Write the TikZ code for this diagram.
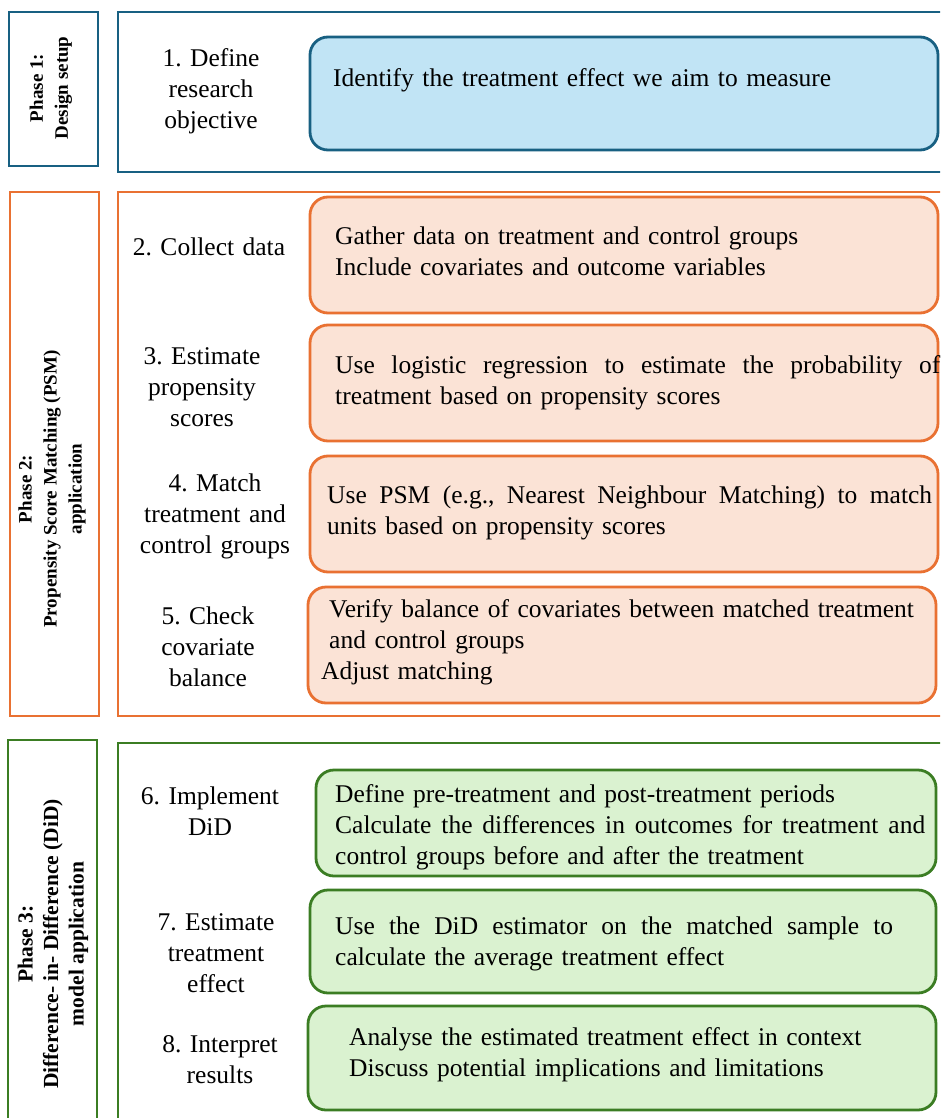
\documentclass[tikz,border=0pt]{standalone}
\usepackage{fontspec}
\setmainfont{Liberation Serif}
\frenchspacing
\definecolor{bdraw}{RGB}{24,96,130}
\definecolor{bfill}{RGB}{193,228,245}
\definecolor{odraw}{RGB}{233,113,50}
\definecolor{ofill}{RGB}{251,227,214}
\definecolor{gdraw}{RGB}{59,125,35}
\definecolor{gfill}{RGB}{218,242,208}
\newcommand{\jline}[2]{\leavevmode\hbox to #1{\spaceskip=0.25em plus 1fil\relax #2}}
\begin{document}
\begin{tikzpicture}[x=1pt,y=-1pt,
  outer/.style={line width=2pt},
  rbox/.style={line width=2.8pt, rounded corners=18pt},
  lbl/.style={anchor=base, align=center, text width=220pt, inner sep=0pt, font=\fontsize{25.5}{31}\selectfont},
  txt/.style={anchor=base west, align=left, text width=640pt, inner sep=0pt, font=\fontsize{25.5}{31}\selectfont},
  phase/.style={rotate=90, align=center, inner sep=0pt, font=\bfseries\fontsize{19}{25}\selectfont}]
\useasboundingbox (0,0) rectangle (940,1118);
\clip (0,0) rectangle (940,1118);
\fill[white] (0,0) rectangle (940,1118);

% Phase 1
\draw[outer, draw=bdraw] (9,12) rectangle (98,166);
\draw[outer, draw=bdraw] (118,12) rectangle (960,172);
\draw[rbox, draw=bdraw, fill=bfill] (310,37) rectangle (938,150);

% Phase 2
\draw[outer, draw=odraw] (10,192) rectangle (99,716);
\draw[outer, draw=odraw] (118,192) rectangle (960,716);
\draw[rbox, draw=odraw, fill=ofill] (310,197) rectangle (938,313);
\draw[rbox, draw=odraw, fill=ofill] (310,325) rectangle (938,441);
\draw[rbox, draw=odraw, fill=ofill] (310,456) rectangle (938,572);
\draw[rbox, draw=odraw, fill=ofill] (308,587) rectangle (936,703);

% Phase 3
\draw[outer, draw=gdraw] (8,740) rectangle (97,1130);
\draw[outer, draw=gdraw] (118,743) rectangle (960,1130);
\draw[rbox, draw=gdraw, fill=gfill] (316,770) rectangle (936,876);
\draw[rbox, draw=gdraw, fill=gfill] (310,890) rectangle (936,993);
\draw[rbox, draw=gdraw, fill=gfill] (308,1006) rectangle (936,1110);

% Phase labels
\node[phase] (p1) at (51,88) {Phase 1:\\Design setup};
\node[phase] (p2) at (52,489) {Phase 2:\\Propensity Score Matching (PSM)\\application};
\node[phase, font=\bfseries\fontsize{21.5}{25.5}\selectfont] (p3) at (53,944) {Phase 3:\\Difference- in- Difference (DiD)\\model application};

% Step labels
\node[lbl] (l1) at (211,67) {1. Define\\research\\objective};
\node[lbl] (l2) at (209,255) {2. Collect data};
\node[lbl] (l3) at (202,364) {3. Estimate\\propensity\\scores};
\node[lbl] (l4) at (215,491) {4. Match\\treatment and\\control groups};
\node[lbl] (l5) at (208,624) {5. Check\\covariate\\balance};
\node[lbl] (l6) at (210,804) {6. Implement\\DiD};
\node[lbl] (l7) at (216,930) {7. Estimate\\treatment\\effect};
\node[lbl] (l8) at (220,1052) {8. Interpret\\results};

% Descriptions
\node[txt] (t1) at (333,87) {Identify the treatment effect we aim to measure};
\node[txt] (t2) at (335,244) {Gather data on treatment and control groups\\Include covariates and outcome variables};
\node[txt] (t3) at (335,373) {\jline{605pt}{Use logistic regression to estimate the probability of}\\treatment based on propensity scores};
\node[txt] (t4) at (327,503) {\jline{605pt}{Use PSM (e.g., Nearest Neighbour Matching) to match}\\units based on propensity scores};
\node[txt] (t5) at (329,617) {Verify balance of covariates between matched treatment\\and control groups\\\hspace*{-8pt}Adjust matching};
\node[txt] (t6) at (335,802) {Define pre-treatment and post-treatment periods\\\jline{590pt}{Calculate the differences in outcomes for treatment and}\\control groups before and after the treatment};
\node[txt] (t7) at (335,934) {\jline{558pt}{Use the DiD estimator on the matched sample to}\\calculate the average treatment effect};
\node[txt] (t8) at (349,1045) {Analyse the estimated treatment effect in context\\Discuss potential implications and limitations};
\end{tikzpicture}
\end{document}
